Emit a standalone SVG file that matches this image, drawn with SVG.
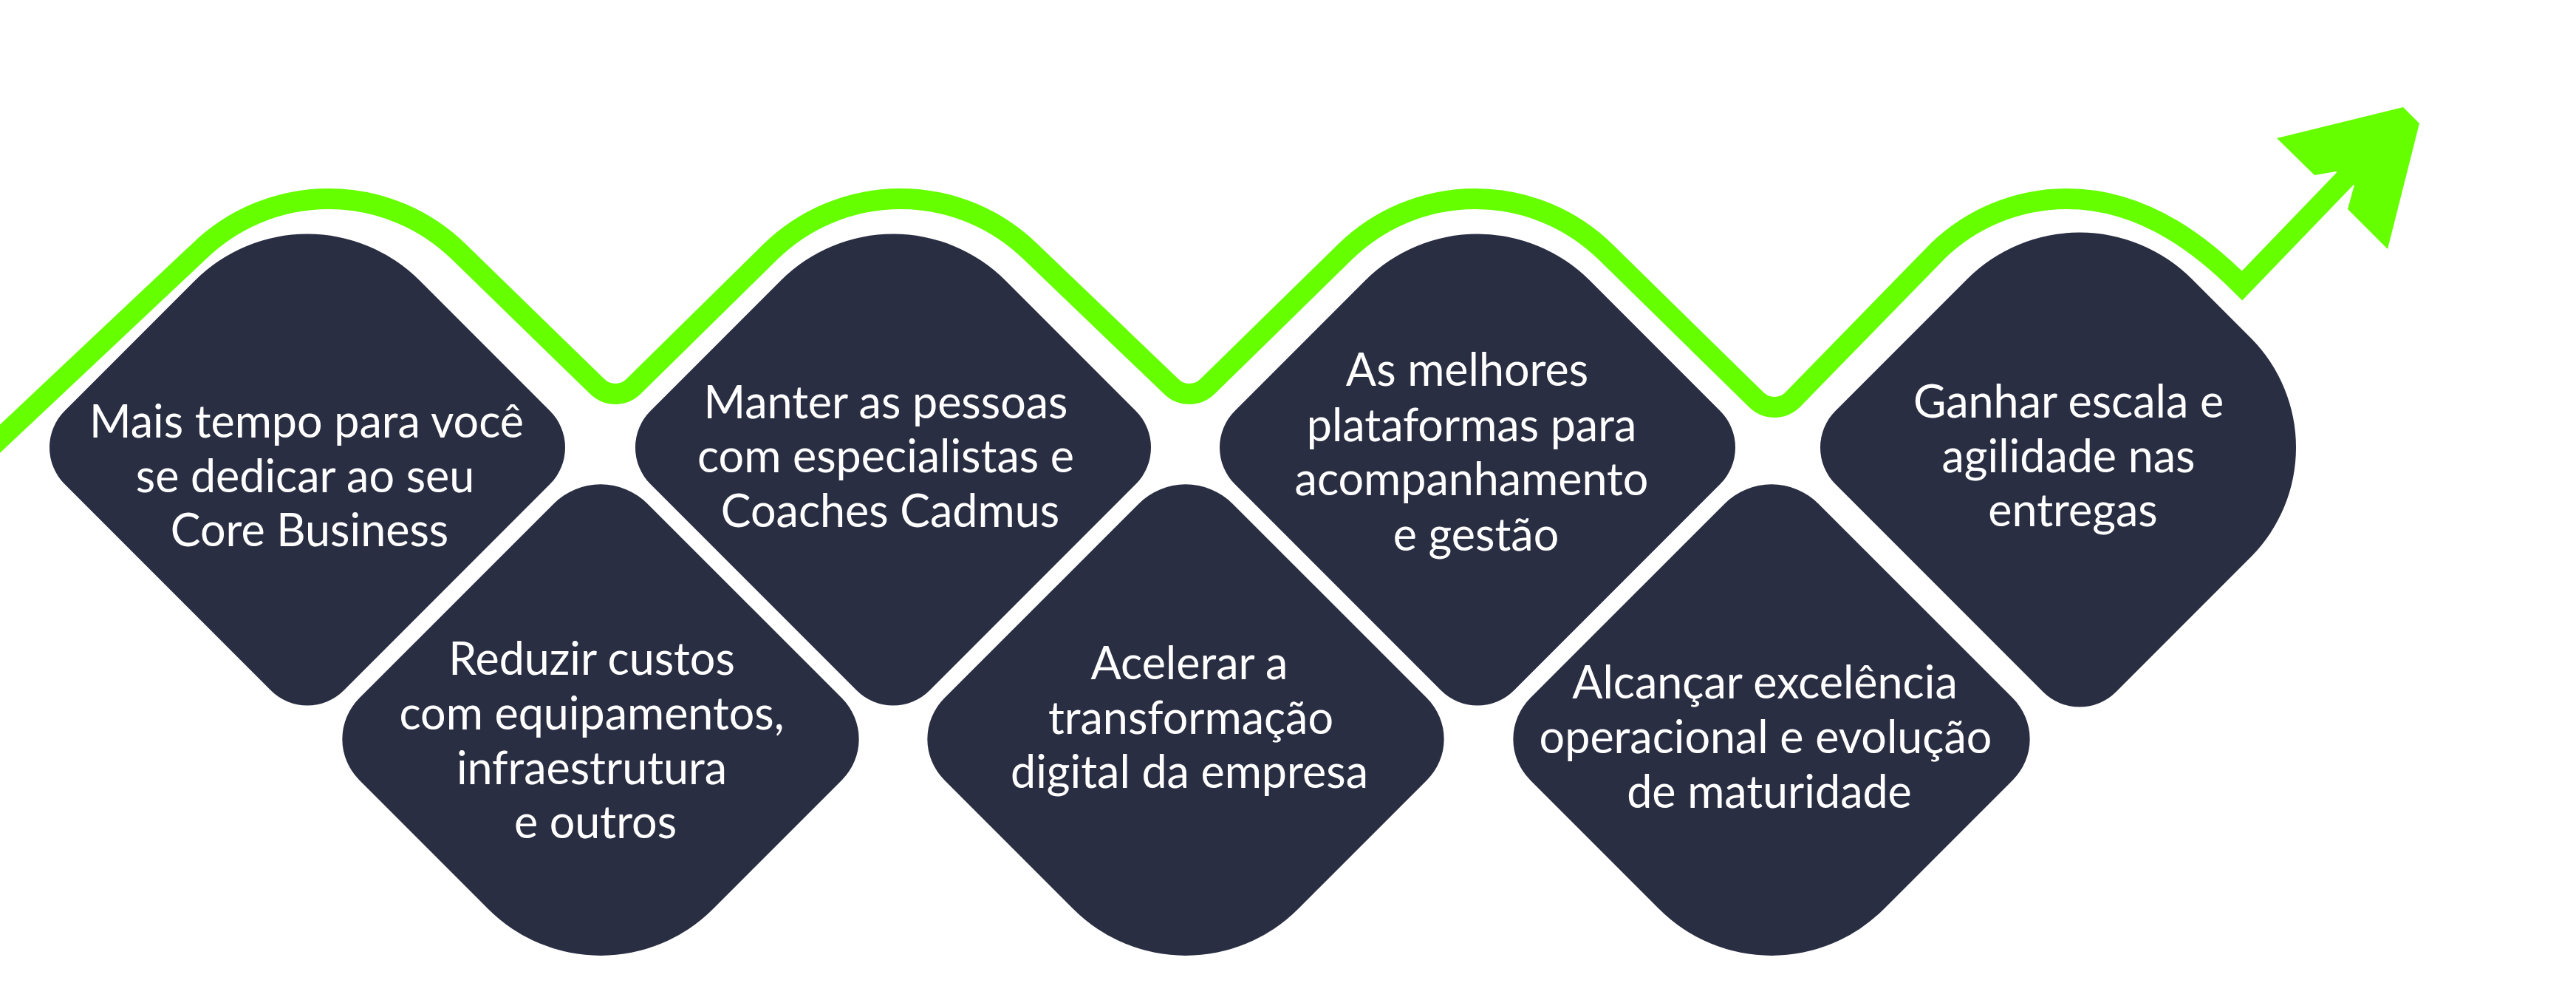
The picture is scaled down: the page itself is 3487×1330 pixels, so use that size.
<svg xmlns="http://www.w3.org/2000/svg" xmlns:xlink="http://www.w3.org/1999/xlink" width="3487" height="1330" viewBox="0 0 3487 1330">
<style>
.shape{fill:#2a2e42}
.lbl{font-family:Lato,"Open Sans","Liberation Sans",sans-serif;font-size:61px;fill:#ffffff;text-anchor:middle}
.wave{fill:none;stroke:#66ff00;stroke-width:28;stroke-linejoin:miter;stroke-miterlimit:6}
.head{fill:#66ff00}
</style>
<defs>
<path id="dTop" transform="rotate(45)" d="M -52.3,-267.3 L 197.3,-267.3 A 70 70 0 0 1 267.3,-197.3 L 267.3,197.3 A 70 70 0 0 1 197.3,267.3 L -197.3,267.3 A 70 70 0 0 1 -267.3,197.3 L -267.3,-52.3 A 215 215 0 0 1 -52.3,-267.3 Z"/>
<path id="dBot" transform="rotate(45)" d="M -180.1,-270.1 L 192.1,-270.1 A 78 78 0 0 1 270.1,-192.1 L 270.1,55.1 A 215 215 0 0 1 55.1,270.1 L -192.1,270.1 A 78 78 0 0 1 -270.1,192.1 L -270.1,-180.1 A 90 90 0 0 1 -180.1,-270.1 Z"/>
<path id="dLast" transform="rotate(45)" d="M -53.7,-268.7 L 58.7,-268.7 A 210 210 0 0 1 268.7,-58.7 L 268.7,198.7 A 70 70 0 0 1 198.7,268.7 L -198.7,268.7 A 70 70 0 0 1 -268.7,198.7 L -268.7,-53.7 A 215 215 0 0 1 -53.7,-268.7 Z"/>
</defs>
<rect width="3487" height="1330" fill="#ffffff"/>

<g id="connectors">
<path class="wave" d="M -10,603 L 269,340.6 A 252 252 0 0 1 621,340.6 L 808.6,523.05 A 35 35 0 0 0 857.4,523.05 L 1043,340.6 A 252 252 0 0 1 1395,340.6 L 1585.6,523.05 A 35 35 0 0 0 1634.4,523.05 L 1821,340.6 A 252 252 0 0 1 2173,340.6 L 2377.6,541.05 A 35 35 0 0 0 2426.4,541.05 L 2622,340.6 A 252 252 0 0 1 2798,269 C 2908,269 2990,341.5 3035,386.5 L 3205,210"/>
<polygon class="head" points="3082,187 3253,145 3275,167 3232,337 3178,283 3187,250 3162,232 3133,237"/>
</g>

<g id="node1">
<use xlink:href="#dTop" href="#dTop" class="shape" x="416" y="605.5"/>
<text class="lbl"><tspan x="415" y="592">Mais tempo para você</tspan><tspan x="413" y="665.6">se dedicar ao seu</tspan><tspan x="419" y="739">Core Business</tspan></text>
</g>
<g id="node2">
<use xlink:href="#dBot" href="#dBot" class="shape" x="813" y="1000"/>
<text class="lbl"><tspan x="801" y="913">Reduzir custos</tspan><tspan x="801" y="987">com equipamentos,</tspan><tspan x="801" y="1061">infraestrutura</tspan><tspan x="806" y="1134">e outros</tspan></text>
</g>
<g id="node3">
<use xlink:href="#dTop" href="#dTop" class="shape" x="1209" y="605.5"/>
<text class="lbl"><tspan x="1199" y="565.7">Manter as pessoas</tspan><tspan x="1199" y="639">com especialistas e</tspan><tspan x="1205" y="713">Coaches Cadmus</tspan></text>
</g>
<g id="node4">
<use xlink:href="#dBot" href="#dBot" class="shape" x="1605" y="1000"/>
<text class="lbl"><tspan x="1610" y="919">Acelerar a</tspan><tspan x="1612" y="992.5">transformação</tspan><tspan x="1610" y="1065.6">digital da empresa</tspan></text>
</g>
<g id="node5">
<use xlink:href="#dTop" href="#dTop" class="shape" x="2000" y="605.5"/>
<text class="lbl"><tspan x="1986" y="522">As melhores</tspan><tspan x="1992" y="596.7">plataformas para</tspan><tspan x="1992" y="670">acompanhamento</tspan><tspan x="1998" y="744.5">e gestão</tspan></text>
</g>
<g id="node6">
<use xlink:href="#dBot" href="#dBot" class="shape" x="2398" y="1000"/>
<text class="lbl"><tspan x="2389" y="945">Alcançar excelência</tspan><tspan x="2390" y="1018.5">operacional e evolução</tspan><tspan x="2395" y="1093">de maturidade</tspan></text>
</g>
<g id="node7">
<use xlink:href="#dLast" href="#dLast" class="shape" x="2815" y="605.5"/>
<text class="lbl"><tspan x="2800" y="565">Ganhar escala e</tspan><tspan x="2800" y="639">agilidade nas</tspan><tspan x="2806" y="712">entregas</tspan></text>
</g>
</svg>
